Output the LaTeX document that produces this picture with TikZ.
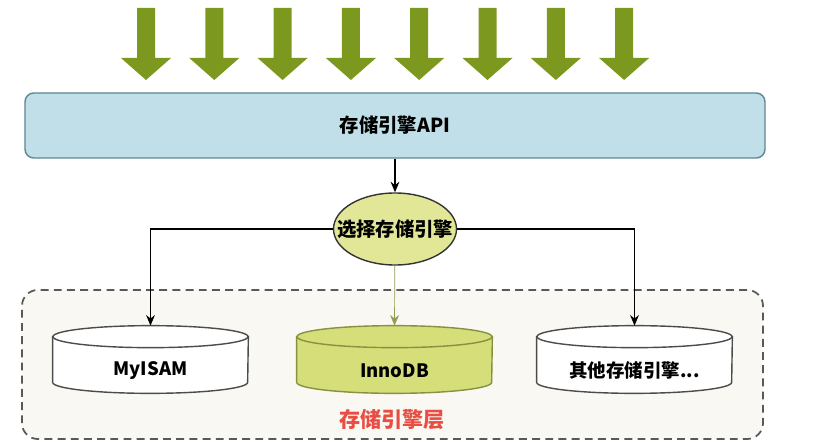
\documentclass[tikz,border=0pt]{standalone}
\usepackage{fontspec}
\setmainfont{Noto Sans CJK SC}
\usepackage{tikz}
\usetikzlibrary{shapes,calc,positioning,arrows.meta,backgrounds}

\definecolor{arrowgreen}{RGB}{125,152,30}
\definecolor{apiblue}{RGB}{192,223,232}
\definecolor{apiedge}{RGB}{95,135,145}
\definecolor{selfill}{RGB}{226,231,152}
\definecolor{innofill}{RGB}{214,222,122}
\definecolor{innoedge}{RGB}{135,145,65}
\definecolor{layerfill}{RGB}{249,248,242}
\definecolor{layerred}{RGB}{232,78,68}

\begin{document}
\begin{tikzpicture}[
	%	style def
    apibox/.style={draw=apiedge, fill=apiblue, thick, rounded corners=5pt,
        minimum width=14.8cm, minimum height=1.3cm, font=\bfseries\fontsize{11}{13}\selectfont},
    selnode/.style={ellipse, draw=black!80, fill=selfill, thick, inner sep=0pt,
        minimum width=2.46cm, minimum height=1.44cm, font=\bfseries\fontsize{11}{13}\selectfont},
    face/.style={minimum width=3.9cm, minimum height=0.9cm, inner sep=0pt,
        font=\bfseries\fontsize{10.5}{12}\selectfont},
    link/.style={thick, -{Stealth[length=6pt,width=5pt]}},
    every node/.style={color=black}
    ]
	\useasboundingbox (0,0) rectangle (16.72,8.8);

	% incoming calls
	\foreach \i in {0,...,7}
		\fill[arrowgreen] ({2.92+1.366*\i-0.18},8.64) -- ++(0.36,0) -- ++(0,-1.0) -- ++(0.32,0)
			-- ({2.92+1.366*\i},7.2) -- ++(-0.5,0.44) -- ++(0.32,0) -- cycle;

	\node[apibox] (api) at (7.9,6.29) {存储引擎API};
	\node[selnode] (sel) at (7.9,4.22) {\makebox[0pt]{选择存储引擎}};

	% engine cylinders (front faces)
	\node[face] (myisam) at (3.01,1.39) {MyISAM};
	\node[face] (innodb) at (7.89,1.39) {InnoDB};
	\node[face] (other) at (12.69,1.39) {其他存储引擎...};

	\begin{scope}[on background layer]
		% storage engine layer
		\draw[dash pattern=on 4.5pt off 3pt, draw=black!65, line width=1pt, fill=layerfill, rounded corners=9pt]
			(0.44,0.02) rectangle (15.26,3.0);
		\foreach \n/\f/\e in {myisam/white/black!70, innodb/innofill/innoedge, other/white/black!70} {
			\draw[draw=\e, fill=\f, thick]
				($(\n.north west)+(0,0.22)$) -- ($(\n.south west)+(0,0.22)$)
				arc (180:360:1.95 and 0.22) -- ($(\n.north east)+(0,0.22)$) -- cycle;
			\draw[draw=\e, fill=\f, thick] ($(\n.north)+(0,0.22)$) ellipse (1.95 and 0.22);
		}
	\end{scope}
	\coordinate (myisam top) at ($(myisam.north)+(0,0.44)$);
	\coordinate (innodb top) at ($(innodb.north)+(0,0.44)$);
	\coordinate (other top) at ($(other.north)+(0,0.44)$);

	% connections
	\draw[link] (api) -- (sel);
	\draw[link] (sel.west) -| (myisam top);
	\draw[link] (sel.east) -| (other top);
	\draw[link, draw=black!30!innofill, thin] (sel) -- (innodb top);

	\node[text=layerred, font=\bfseries\fontsize{12}{14}\selectfont] (layer) at (7.84,0.4) {存储引擎层};
\end{tikzpicture}
\end{document}
